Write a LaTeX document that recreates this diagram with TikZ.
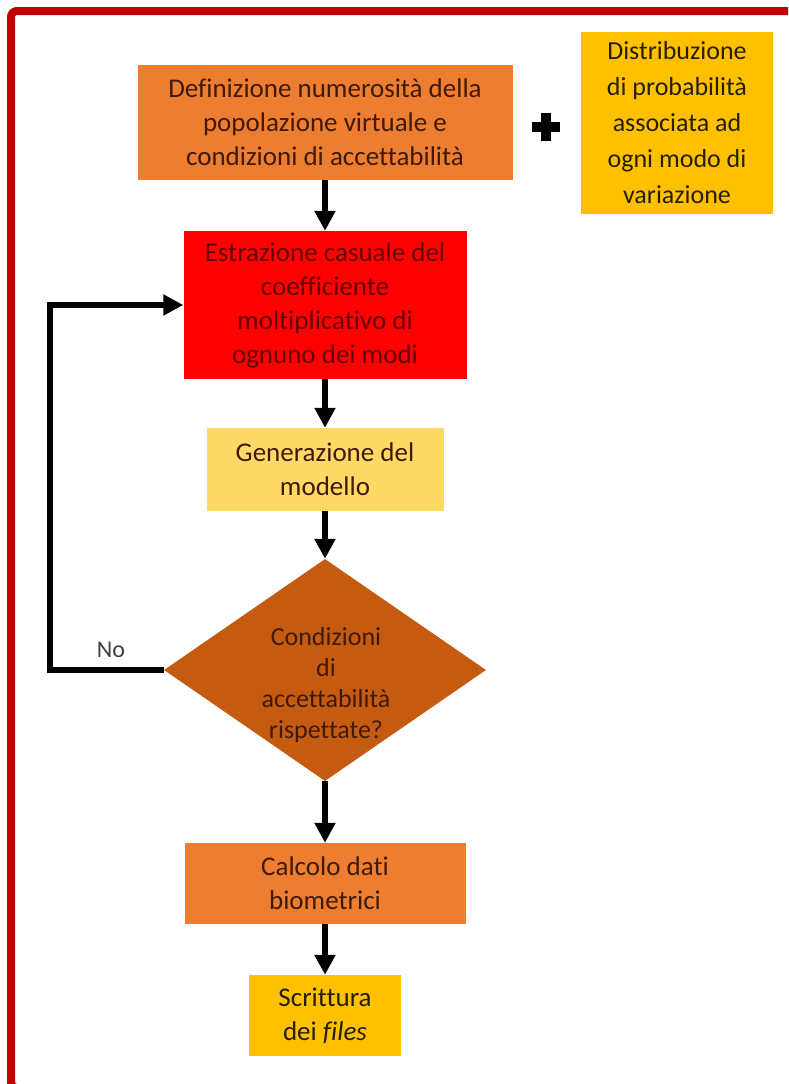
\documentclass[tikz,border=0pt]{standalone}
\usepackage{fontspec}
\setmainfont{Carlito}[Ligatures=NoCommon]
\usetikzlibrary{arrows.meta,shapes.geometric}
\definecolor{framered}{HTML}{C00000}
\definecolor{orangebox}{HTML}{ED7D31}
\definecolor{redbox}{HTML}{FF0000}
\definecolor{paleyellow}{HTML}{FFD966}
\definecolor{goldbox}{HTML}{FFC000}
\definecolor{rustbox}{HTML}{C55A11}
\definecolor{inkbrown}{HTML}{3F1A06}
\definecolor{inkred}{HTML}{650000}
\definecolor{inkdark}{HTML}{262000}
\begin{document}
\begin{tikzpicture}[x=1pt,y=-1pt,
    box/.style={inner sep=0pt,align=center,font=\fontsize{27}{34}\selectfont},
    decision/.style={diamond,inner sep=0pt,minimum width=322pt,minimum height=222pt,fill=rustbox},
    flow/.style={line width=6pt,-{Triangle[length=20pt,width=20pt]}}]
  \useasboundingbox (0,0) rectangle (788,1084);
  \clip (0,0) rectangle (788,1084);
  \draw[framered,line width=8pt,rounded corners=6pt] (11,11) rectangle (830,1088);
  % main column
  \node[box,fill=orangebox,text=inkbrown,minimum width=375pt,minimum height=115pt]
    (def) at (325,122.5) {Definizione numerosità della\\popolazione virtuale e\\condizioni di accettabilità};
  \node[box,fill=goldbox,text=inkdark,minimum width=192pt,minimum height=182pt,
    font=\fontsize{26}{36}\selectfont] (distr) at (677,123)
    {Distribuzione\\di probabilità\\associata ad\\ogni modo di\\variazione};
  \node[box,fill=redbox,text=inkred,minimum width=283pt,minimum height=148pt]
    (estr) at (325,305) {Estrazione casuale del\\coefficiente\\moltiplicativo di\\ognuno dei modi};
  \node[box,fill=paleyellow,text=inkbrown,minimum width=237pt,minimum height=83pt]
    (gen) at (325,469.5) {Generazione del\\modello};
  \node[decision] (cond) at (325,670) {};
  \node[box,text=inkbrown,font=\fontsize{26}{31}\selectfont] (condtext) at (326,685)
    {Condizioni\\di\\accettabilità\\rispettate?};
  \node[box,fill=orangebox,text=inkbrown,minimum width=281pt,minimum height=81pt]
    (calc) at (325,883.5) {Calcolo dati\\biometrici};
  \node[box,fill=goldbox,text=inkdark,minimum width=152pt,minimum height=81pt]
    (scrit) at (325,1015.5) {Scrittura\\dei \textit{files}};
  % plus sign
  \fill (532,122) rectangle (560,132);
  \fill (541,113) rectangle (551,141);
  % connectors
  \coordinate (back) at (49.5,670);
  \node[font=\fontsize{24}{24}\selectfont,text=black!75] (no) at (111,650) {No};
  \begin{scope}[flow]
    \draw (def.south) -- (estr.north);
    \draw (estr.south) -- (gen.north);
    \draw (gen.south) -- (cond.north);
    \draw (cond.south) -- (calc.north);
    \draw (calc.south) -- (scrit.north);
    \draw (cond.west) -- (back) |- (estr.west);
  \end{scope}
\end{tikzpicture}
\end{document}
